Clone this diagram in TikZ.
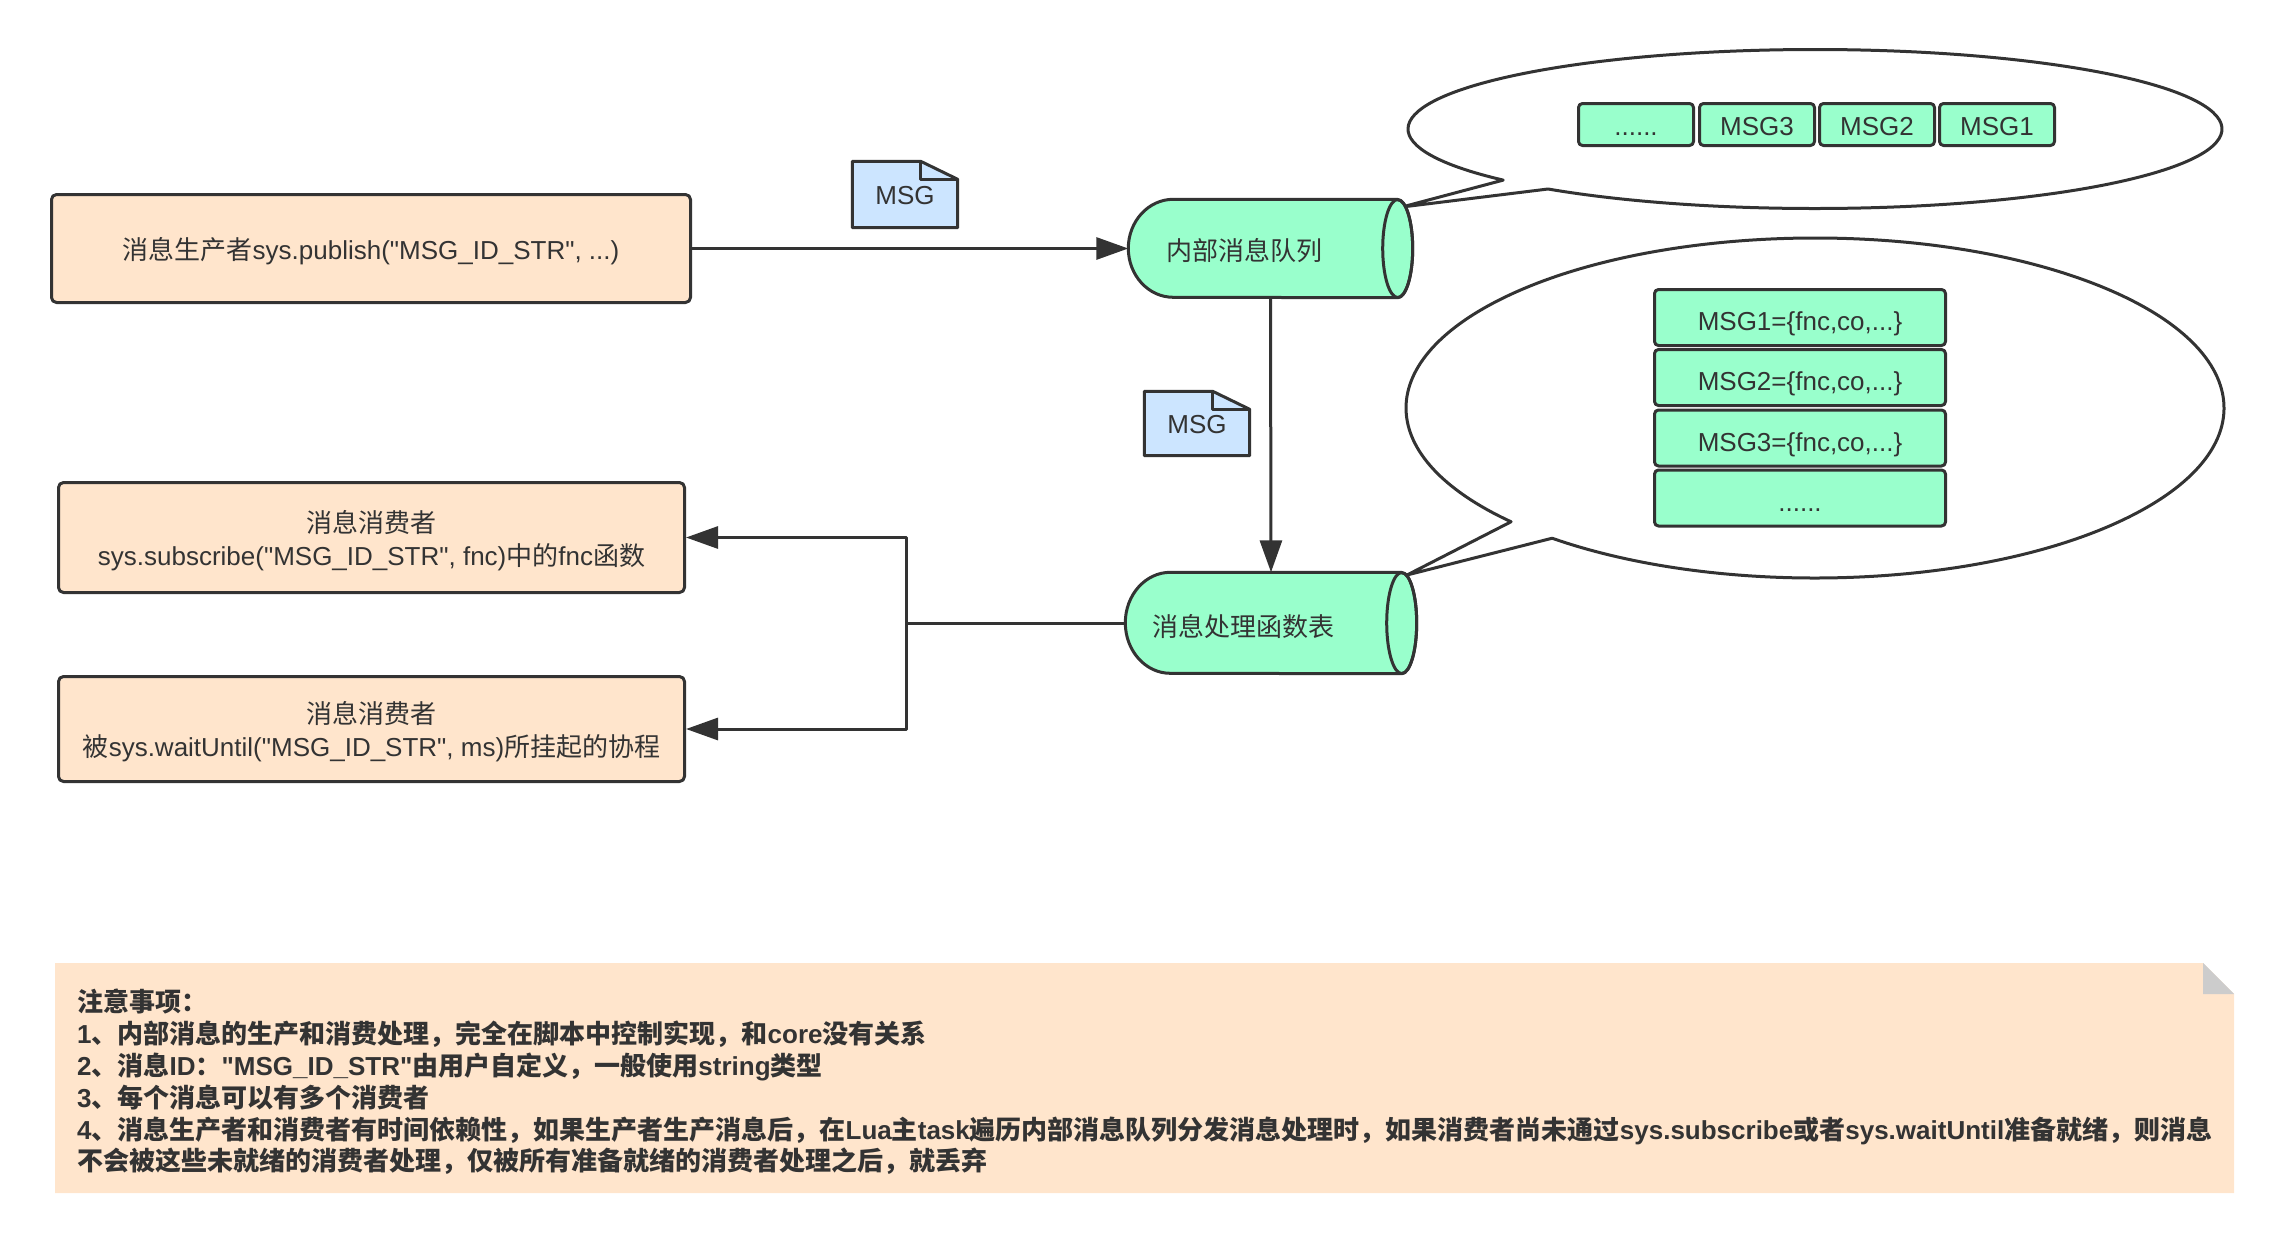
\documentclass[tikz,border=0pt]{standalone}
\usepackage{fontspec}
\setmainfont{Liberation Sans}
\newfontfamily\cjk{Noto Sans CJK SC}
\usetikzlibrary{arrows.meta,calc,backgrounds}

\definecolor{linec}{HTML}{333333}
\definecolor{peach}{HTML}{FFE5CC}
\definecolor{mint}{HTML}{99FFCC}
\definecolor{paleblue}{HTML}{CCE5FF}
\definecolor{foldgray}{HTML}{CCCCCC}

\newcommand{\zh}[1]{{\cjk #1}}
\newcommand{\tripledot}{...}
\newcommand{\qt}{\textquotedbl}

% cylinder outline behind a node, #2 = half height
\newcommand{\drum}[2]{%
  \filldraw[wire, fill=mint] ([xshift=-15pt]#1.north east) -- ([xshift=45pt]#1.north west)
    arc[start angle=90, end angle=270, x radius=45pt, y radius=#2pt]
    -- ([xshift=-15pt]#1.south east)
    arc[start angle=-90, end angle=90, x radius=15pt, y radius=#2pt] -- cycle;
  \draw[wire] ([xshift=-15pt]#1.east) ellipse [x radius=15pt, y radius=#2pt];
}

% note with folded corner behind a node
\newcommand{\docshape}[1]{%
  \filldraw[wire, fill=paleblue] (#1.north west) -- ([xshift=-37pt]#1.north east)
    -- ([yshift=-18pt]#1.north east) -- (#1.south east) -- (#1.south west) -- cycle;
  \draw[wire] ([xshift=-37pt]#1.north east) -- ([xshift=-37pt,yshift=-18pt]#1.north east)
    -- ([yshift=-18pt]#1.north east);
}

\tikzset{
  wire/.style={draw=linec, line width=3pt, line join=round},
  arr/.style={wire, -{Triangle[length=32pt,width=22pt]}},
  txt/.style={text=linec, font=\fontsize{26}{33}\selectfont},
  card/.style={wire, txt, fill=peach, rounded corners=5pt, inner sep=0pt, align=center, text depth=0pt},
  cell/.style={wire, txt, fill=mint, rounded corners=4pt, inner sep=0pt, text height=21pt, text depth=0pt},
  docnode/.style={txt, inner sep=0pt, minimum width=105pt, text height=19pt, text depth=0pt},
  drumnode/.style={inner sep=0pt},
  balloon/.style={wire, fill=white},
  notetext/.style={text=linec, font=\fontsize{26}{31.8}\selectfont\bfseries, align=left, inner sep=0pt},
}

\begin{document}
\begin{tikzpicture}[x=1pt,y=-1pt]
    \useasboundingbox (0,0) rectangle (2284,1243);

    % producer and consumers
    \node[card, minimum width=639pt, minimum height=108pt] (prod) at (371,248.5)
      {\zh{消息生产者}sys.publish(\qt MSG\_ID\_STR\qt, ...)};
    \node[card, minimum width=626pt, minimum height=110pt] (cons1) at (371.5,537.5)
      {\zh{消息消费者}\\sys.subscribe(\qt MSG\_ID\_STR\qt, fnc)\zh{中的}fnc\zh{函数}};
    \node[card, minimum width=626pt, minimum height=105pt] (cons2) at (371.5,729)
      {\zh{消息消费者}\\\zh{被}sys.waitUntil(\qt MSG\_ID\_STR\qt, ms)\zh{所挂起的协程}};

    % queue and handler table
    \node[drumnode, minimum width=284pt, minimum height=98pt,
      label={[txt, xshift=-26pt, yshift=-2pt]center:\zh{内部消息队列}}] (queue) at (1270.5,248.5) {};
    \node[drumnode, minimum width=291pt, minimum height=101pt,
      label={[txt, xshift=-28pt, yshift=-4pt]center:\zh{消息处理函数表}}] (handler) at (1271,623) {};

    % messages on the way
    \node[docnode, minimum height=66pt] (msgA) at (905,194.5) {MSG};
    \node[docnode, minimum height=64pt] (msgB) at (1197,423.5) {MSG};

    % cells inside the balloons
    \foreach \x/\t [count=\i] in {1636/\tripledot\tripledot, 1757/MSG3, 1877/MSG2, 1997/MSG1}
      \node[cell, minimum width=115pt, minimum height=42pt] (q\i) at (\x,124.5) {\t};
    \foreach \y/\t [count=\i] in {317.5/{MSG1=\{fnc,co,\tripledot\}}, 377.5/{MSG2=\{fnc,co,\tripledot\}},
        438/{MSG3=\{fnc,co,\tripledot\}}, 498/\tripledot\tripledot}
      \node[cell, text height=26pt, minimum width=291pt, minimum height=56pt] (t\i) at (1800,\y) {\t};

    % connectors
    \draw[arr] (prod.east) -- (queue.west);
    \draw[arr] (queue.south) -- (handler.north);
    \coordinate (fork) at (906,623);
    \draw[wire] (handler.west) -- (fork);
    \draw[arr] (fork) |- (cons1.east);
    \draw[arr] (fork) |- (cons2.east);

    % notes
    \node[notetext, anchor=north west] (notes) at (77,989)
      {\zh{注意事项：}\\
       1\zh{、内部消息的生产和消费处理，完全在脚本中控制实现，和}core\zh{没有关系}\\
       2\zh{、消息}ID\zh{：}\qt MSG\_ID\_STR\qt\zh{由用户自定义，一般使用}string\zh{类型}\\
       3\zh{、每个消息可以有多个消费者}\\
       4\zh{、消息生产者和消费者有时间依赖性，如果生产者生产消息后，在}Lua\zh{主}task\zh{遍历内部消息队列分发消息处理时，如果消费者尚未通过}sys.subscribe\zh{或者}sys.waitUntil\zh{准备就绪，则消息}\\
       \zh{不会被这些未就绪的消费者处理，仅被所有准备就绪的消费者处理之后，就丢弃}};

    \begin{scope}[on background layer]
      % balloons
      \coordinate (c1) at (1815,129);
      \draw[balloon] ($(c1)+(220:407pt and 79.5pt)$) -- (1402,207) -- ($(c1)+(229:407pt and 79.5pt)$)
        arc[start angle=229, end angle=580, x radius=407pt, y radius=79.5pt] -- cycle;
      \coordinate (c2) at (1815,408);
      \draw[balloon] ($(c2)+(222:409pt and 170pt)$) -- (1407,575) -- ($(c2)+(230:409pt and 170pt)$)
        arc[start angle=230, end angle=582, x radius=409pt, y radius=170pt] -- cycle;

      \drum{queue}{49}
      \drum{handler}{50.5}
      \docshape{msgA}
      \docshape{msgB}

      % note paper
      \fill[peach] (55,963) -- (2203,963) -- (2234,994) -- (2234,1193) -- (55,1193) -- cycle;
      \fill[foldgray] (2203,963) -- (2234,994) -- (2203,994) -- cycle;
    \end{scope}
\end{tikzpicture}
\end{document}
